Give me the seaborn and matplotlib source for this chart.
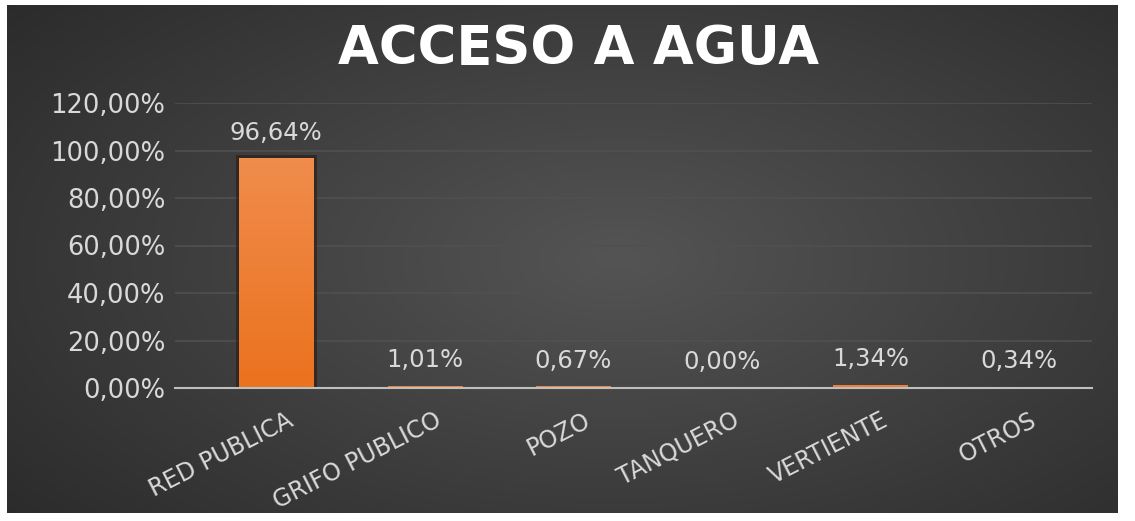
import numpy as np
import pandas as pd
import matplotlib
matplotlib.use("Agg")
import matplotlib.pyplot as plt
import matplotlib.patheffects as pe
import matplotlib.transforms as mtrans
from matplotlib.colors import LinearSegmentedColormap
import seaborn as sns
from matplotlib.ticker import FuncFormatter

# Chart data
categories = ["RED PUBLICA", "GRIFO PUBLICO", "POZO", "TANQUERO", "VERTIENTE", "OTROS"]
values = [96.64, 1.01, 0.67, 0.00, 1.34, 0.34]
title = "ACCESO A AGUA"

df = pd.DataFrame({"cat": categories, "val": values})

sns.set_style("dark")
plt.rcParams["font.family"] = ["DejaVu Sans"]

fig = plt.figure(figsize=(11.35, 5.21), dpi=100)
fig.patch.set_facecolor("white")

# dark radial-gradient panel inside a thin white border
bg = fig.add_axes([7 / 1135, 8 / 521, 1111 / 1135, 508 / 521], zorder=0)
gx, gy = np.meshgrid(np.linspace(0, 1, 400), np.linspace(0, 1, 200))
r = np.sqrt(((gx - 0.55) / 0.8) ** 2 + ((gy - 0.5) / 0.9) ** 2)
shade = np.clip(1 - r, 0, 1)
lo, hi = np.array([0.15, 0.15, 0.15]), np.array([0.33, 0.33, 0.33])
img = lo + (hi - lo) * shade[..., None]
bg.imshow(img, aspect="auto", extent=[0, 1, 0, 1])
bg.set_axis_off()

ax = fig.add_axes([175 / 1135, 133 / 521, 917 / 1135, 285 / 521], zorder=1)
ax.patch.set_alpha(0)

sns.barplot(data=df, x="cat", y="val", color="#EE7E33", width=0.5,
            saturation=1, linewidth=0, edgecolor="none", ax=ax, zorder=3)

# soft dark shadow and vertical orange gradient on the bars
bar_cmap = LinearSegmentedColormap.from_list("bar", ["#EB721E", "#F08C4C"])
grad = np.linspace(0, 1, 100).reshape(-1, 1)
for p in ax.patches:
    x0, y0 = p.get_x(), p.get_y()
    w, h = p.get_width(), p.get_height()
    if h > 2:
        p.set_path_effects([pe.Stroke(linewidth=5, foreground="#24160e", alpha=0.55), pe.Normal()])
    if h > 0:
        im = ax.imshow(grad, cmap=bar_cmap, origin="lower", aspect="auto",
                       extent=[x0, x0 + w, y0, y0 + h], zorder=3.2)
        im.set_clip_path(p)

ax.set_ylim(0, 120)
ax.set_xlim(-0.68, 5.49)
ax.set_yticks(np.arange(0, 121, 20))
ax.yaxis.set_major_formatter(FuncFormatter(lambda v, p: f"{v:.2f}%".replace(".", ",")))
ax.grid(axis="y", color="#505050", linewidth=1.2, zorder=0)
ax.grid(axis="x", visible=False)
for s in ["top", "right", "left"]:
    ax.spines[s].set_visible(False)
ax.spines["bottom"].set_color("#bfbfbf")
ax.spines["bottom"].set_linewidth(1.5)
ax.spines["bottom"].set_zorder(4)

ax.set_xlabel("")
ax.set_ylabel("")
ax.tick_params(axis="y", colors="#d9d9d9", labelsize=18.5, length=0, pad=7)
ax.tick_params(axis="x", colors="#d9d9d9", labelsize=17, length=0, pad=0)
offset = mtrans.ScaledTranslation(10 / 100, -20 / 100, fig.dpi_scale_trans)
for lbl in ax.get_xticklabels():
    lbl.set_rotation(27)
    lbl.set_ha("right")
    lbl.set_va("top")
    lbl.set_rotation_mode("anchor")
    lbl.set_transform(lbl.get_transform() + offset)

for i, v in enumerate(values):
    ax.annotate(f"{v:.2f}%".replace(".", ","), (i, v), xytext=(0, 10),
                textcoords="offset points", ha="center", va="bottom",
                color="#d9d9d9", fontsize=17.5, zorder=5)

fig.text(579 / 1135, 0.905, title, ha="center", va="center", color="white",
         fontsize=38, fontweight="bold")

fig.savefig("out.png", dpi=100)
